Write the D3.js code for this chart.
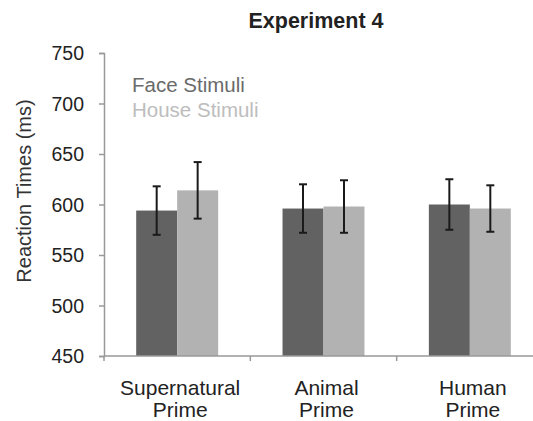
<!DOCTYPE html>
<html>
<head>
<meta charset="utf-8">
<script src="https://cdn.jsdelivr.net/npm/d3@7"></script>
<style>
  body { margin: 0; background: #fff; }
  svg text { font-family: "Liberation Sans", Arial, sans-serif; }
</style>
</head>
<body>
<div id="chart"></div>
<script>
// categories and series
var categories = [["Supernatural", "Prime"], ["Animal", "Prime"], ["Human", "Prime"]];
var series = ["Face Stimuli", "House Stimuli"];
var faceMeans = [594, 596, 600];
var houseMeans = [614, 598, 596];
var faceErr = [24, 24, 25];
var houseErr = [28, 26, 23];
var yTicks = [450, 500, 550, 600, 650, 700, 750];

var width = 533, height = 421;
var colors = ["#626262", "#b2b2b2"];
var legendColors = ["#6a6a6a", "#bdbdbd"];

var svg = d3.select("#chart").append("svg")
    .attr("width", width)
    .attr("height", height);

// scales
var y = d3.scaleLinear().domain([450, 750]).range([356, 53]);
var x = d3.scaleBand().domain(d3.range(categories.length)).range([104, 543]).paddingInner(0.44).paddingOuter(0.22);
var xs = d3.scaleBand().domain(d3.range(series.length)).range([0, x.bandwidth()]);

var rows = categories.map(function(c, i) {
    return [
        {cat: i, s: 0, v: faceMeans[i], e: faceErr[i]},
        {cat: i, s: 1, v: houseMeans[i], e: houseErr[i]}
    ];
});

// bars
var groups = svg.selectAll("g.grp")
    .data(rows)
    .enter().append("g")
    .attr("class", "grp")
    .attr("transform", function(d, i) { return "translate(" + x(i) + ",0)"; });

groups.selectAll("rect")
    .data(function(d) { return d; })
    .enter().append("rect")
    .attr("x", function(d) { return xs(d.s); })
    .attr("width", xs.bandwidth())
    .attr("y", function(d) { return y(d.v); })
    .attr("height", function(d) { return y(450) - y(d.v); })
    .attr("fill", function(d) { return colors[d.s]; });

// error bars
var eb = groups.selectAll("g.err")
    .data(function(d) { return d; })
    .enter().append("g")
    .attr("class", "err")
    .attr("stroke", "#1a1a1a")
    .attr("stroke-width", 2);

eb.append("line")
    .attr("x1", function(d) { return xs(d.s) + xs.bandwidth() / 2; })
    .attr("x2", function(d) { return xs(d.s) + xs.bandwidth() / 2; })
    .attr("y1", function(d) { return y(d.v + d.e); })
    .attr("y2", function(d) { return y(d.v - d.e); });

[1, -1].forEach(function(sign) {
    eb.append("line")
        .attr("x1", function(d) { return xs(d.s) + xs.bandwidth() / 2 - 4; })
        .attr("x2", function(d) { return xs(d.s) + xs.bandwidth() / 2 + 4; })
        .attr("y1", function(d) { return y(d.v + sign * d.e); })
        .attr("y2", function(d) { return y(d.v + sign * d.e); });
});

// y axis
var yAxis = svg.append("g")
    .attr("transform", "translate(104,0)")
    .call(d3.axisLeft(y).tickValues(yTicks).tickSize(5).tickPadding(15));
yAxis.select(".domain").attr("stroke", "#999").attr("stroke-width", 1.5);
yAxis.selectAll(".tick line").attr("stroke", "#999").attr("stroke-width", 1.5);
yAxis.selectAll(".tick text")
    .attr("fill", "#222")
    .style("font-size", "19.5px")
    .attr("dy", "0.35em");

// x axis
var xTicks = d3.range(categories.length + 1).map(function(i) { return 104 + i * x.step(); });
svg.append("line")
    .attr("x1", 104).attr("x2", width)
    .attr("y1", 356).attr("y2", 356)
    .attr("stroke", "#999").attr("stroke-width", 1.5);
svg.selectAll("line.xtick")
    .data(xTicks)
    .enter().append("line")
    .attr("class", "xtick")
    .attr("x1", function(d) { return d; }).attr("x2", function(d) { return d; })
    .attr("y1", 356).attr("y2", 361)
    .attr("stroke", "#999").attr("stroke-width", 1.5);

var labels = svg.selectAll("text.cat")
    .data(categories)
    .enter().append("text")
    .attr("class", "cat")
    .attr("text-anchor", "middle")
    .attr("fill", "#222")
    .style("font-size", "21px")
    .attr("transform", function(d, i) { return "translate(" + (x(i) + x.bandwidth() / 2 + 3) + ",0)"; });
labels.selectAll("tspan")
    .data(function(d) { return d; })
    .enter().append("tspan")
    .attr("x", 0)
    .attr("y", function(d, j) { return 395 + j * 22; })
    .text(function(d) { return d; });

// title
svg.append("text")
    .attr("x", 316).attr("y", 28)
    .attr("text-anchor", "middle")
    .attr("fill", "#222")
    .style("font-size", "21.5px")
    .style("font-weight", "bold")
    .text("Experiment 4");

// y label
svg.append("text")
    .attr("transform", "translate(31,191) rotate(-90)")
    .attr("text-anchor", "middle")
    .attr("fill", "#333")
    .style("font-size", "20px")
    .text("Reaction Times (ms)");

// legend
svg.selectAll("text.leg")
    .data(series)
    .enter().append("text")
    .attr("class", "leg")
    .attr("x", 132)
    .attr("y", function(d, i) { return 92 + i * 25; })
    .attr("fill", function(d, i) { return legendColors[i]; })
    .style("font-size", "20.5px")
    .text(function(d) { return d; });
</script>
</body>
</html>
